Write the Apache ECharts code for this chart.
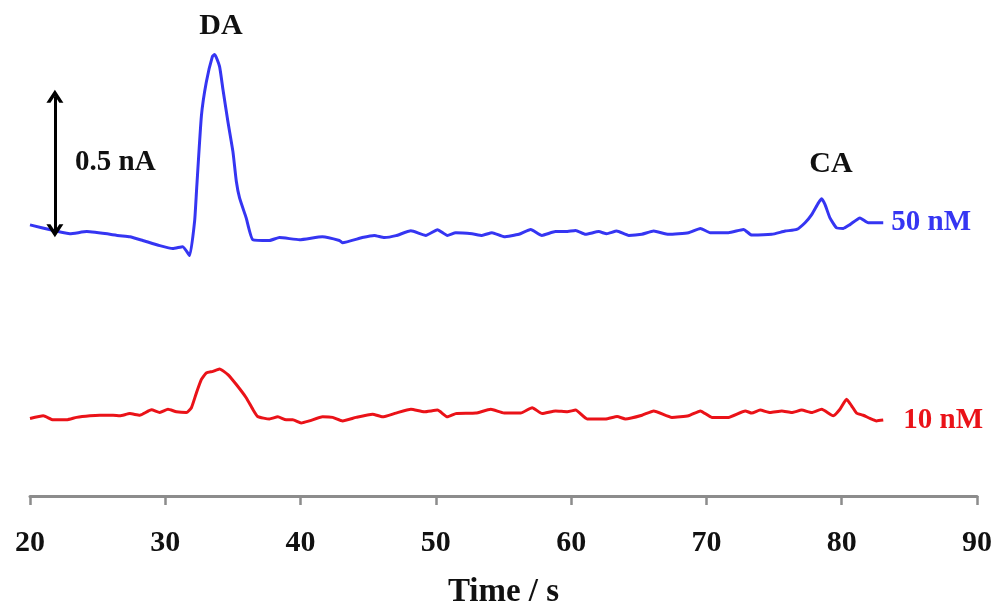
<!DOCTYPE html>
<html>
<head>
<meta charset="utf-8">
<script src="https://cdn.jsdelivr.net/npm/echarts@6/dist/echarts.min.js"></script>
<style>
html,body{margin:0;padding:0;background:#fff;}
#chart{width:995px;height:614px;}
</style>
</head>
<body>
<div id="chart"></div>
<script>
// Time (s) and current (nA, offset traces)
var time50 = [20.00,21.84,22.95,24.20,26.64,27.38,28.34,29.59,30.55,31.29,31.80,32.17,32.32,32.67,33.03,33.48,33.65,34.01,34.26,34.63,35.00,35.25,35.49,35.98,36.47,37.70,38.44,39.92,41.61,42.87,43.09,44.56,45.45,46.19,47.05,48.16,49.26,50.12,50.85,51.47,52.68,53.41,54.15,55.04,56.14,57.01,57.84,58.85,59.59,60.33,61.06,62.04,62.63,63.37,64.26,65.22,66.10,67.21,68.68,69.55,70.28,71.63,72.74,73.35,74.83,75.82,76.67,77.29,77.78,78.27,78.52,78.77,79.13,79.62,80.12,80.61,81.35,81.96,83.07];
var current50 = [1.007,0.985,0.974,0.982,0.967,0.963,0.949,0.930,0.919,0.926,0.893,1.022,1.143,1.412,1.537,1.632,1.640,1.596,1.511,1.390,1.279,1.169,1.107,1.033,0.952,0.949,0.960,0.952,0.963,0.949,0.941,0.960,0.968,0.960,0.967,0.985,0.968,0.989,0.968,0.978,0.974,0.968,0.978,0.963,0.972,0.990,0.968,0.982,0.982,0.986,0.972,0.982,0.974,0.984,0.968,0.972,0.984,0.972,0.978,0.994,0.978,0.978,0.990,0.969,0.972,0.984,0.990,1.015,1.045,1.088,1.104,1.082,1.033,0.996,0.994,1.008,1.033,1.015,1.015];

var time10 = [20.00,20.98,21.72,22.71,23.44,24.43,25.16,26.14,26.64,27.38,28.11,28.98,29.59,30.20,30.82,31.56,31.93,32.30,32.67,33.03,33.52,34.01,34.63,35.25,35.98,36.47,36.84,37.70,38.32,38.93,39.42,40.04,40.65,41.63,42.37,43.11,44.10,45.32,46.06,47.05,48.16,49.14,50.12,50.85,51.47,52.95,54.06,55.04,56.27,57.12,57.86,58.85,59.71,60.33,61.18,62.54,63.40,64.01,65.24,66.10,67.45,68.68,69.55,70.40,71.63,72.87,73.35,73.97,74.71,75.57,76.30,77.04,77.78,78.52,79.38,79.87,80.36,80.73,81.10,81.59,82.09,82.57,83.07];
var current10 = [0.288,0.298,0.283,0.283,0.292,0.298,0.300,0.300,0.298,0.306,0.300,0.320,0.310,0.322,0.313,0.310,0.328,0.383,0.433,0.457,0.463,0.472,0.451,0.414,0.365,0.322,0.295,0.286,0.294,0.283,0.283,0.271,0.279,0.294,0.292,0.279,0.292,0.304,0.294,0.308,0.322,0.313,0.319,0.294,0.306,0.308,0.322,0.308,0.308,0.328,0.306,0.316,0.313,0.319,0.286,0.286,0.295,0.286,0.300,0.316,0.292,0.298,0.316,0.292,0.292,0.316,0.308,0.319,0.310,0.316,0.310,0.319,0.310,0.322,0.298,0.322,0.359,0.335,0.308,0.300,0.288,0.279,0.282];

var seriesNames = ['50 nM', '10 nM'];
var peakLabels = ['DA', 'CA'];
var scaleBarTime = [21.84];
var scaleBarBase = [0.985];
var scaleBarSize = [0.5];
var scaleBarLabel = ['0.5 nA'];
var xTicks = [20, 30, 40, 50, 60, 70, 80, 90];

function zip(a, b) { return a.map(function (v, i) { return [v, b[i]]; }); }

var FONT = '"Liberation Serif", "Times New Roman", serif';
var BLUE = '#3535f2';
var RED = '#ea1218';
var chevron = 'path://M0,10 L5,0 L10,10 L7.6,10 L5,4.8 L2.4,10 Z';

var chart = echarts.init(document.getElementById('chart'), null, { renderer: 'canvas' });
chart.setOption({
  animation: false,
  backgroundColor: '#ffffff',
  grid: { left: 30, right: 16, top: 11.4, bottom: 113, containLabel: false },
  xAxis: {
    type: 'value',
    min: xTicks[0], max: xTicks[xTicks.length - 1], interval: 10,
    name: 'Time / s', nameLocation: 'middle', nameGap: 80,
    nameTextStyle: { fontFamily: FONT, fontWeight: 'bold', fontSize: 33, color: '#111' },
    axisLine: { show: true, onZero: false, lineStyle: { color: '#8c8c8c', width: 3 } },
    axisTick: { show: true, inside: false, length: 9, lineStyle: { color: '#8c8c8c', width: 2.5 } },
    axisLabel: { margin: 32, fontFamily: FONT, fontWeight: 'bold', fontSize: 30, color: '#111' },
    splitLine: { show: false }
  },
  yAxis: { type: 'value', min: 0, max: 1.8, show: false, splitLine: { show: false } },
  series: [
    {
      name: seriesNames[0], type: 'line', data: zip(time50, current50),
      showSymbol: false, smooth: 0.15, lineStyle: { color: BLUE, width: 3 }, itemStyle: { color: BLUE },
      endLabel: { show: true, formatter: seriesNames[0], distance: 8, color: BLUE, fontFamily: FONT, fontWeight: 'bold', fontSize: 29 },
      markLine: {
        silent: true, symbol: [chevron, chevron], symbolSize: [17, 13],
        label: { show: false },
        lineStyle: { color: '#000', width: 3, type: 'solid' },
        data: [[
          { coord: [scaleBarTime[0], scaleBarBase[0]] },
          { coord: [scaleBarTime[0], scaleBarBase[0] + scaleBarSize[0]] }
        ]]
      },
      z: 3
    },
    {
      name: seriesNames[1], type: 'line', data: zip(time10, current10),
      showSymbol: false, smooth: 0.15, lineStyle: { color: RED, width: 3 }, itemStyle: { color: RED },
      endLabel: { show: true, formatter: seriesNames[1], distance: 20, color: RED, fontFamily: FONT, fontWeight: 'bold', fontSize: 29 },
      z: 3
    }
  ],
  graphic: [
    { type: 'text', x: 221, y: 26, style: { text: peakLabels[0], font: 'bold 30px ' + FONT, fill: '#111', align: 'center', verticalAlign: 'middle' } },
    { type: 'text', x: 831, y: 164, style: { text: peakLabels[1], font: 'bold 30px ' + FONT, fill: '#111', align: 'center', verticalAlign: 'middle' } },
    { type: 'text', x: 75, y: 163, style: { text: scaleBarLabel[0], font: 'bold 29px ' + FONT, fill: '#111', align: 'left', verticalAlign: 'middle' } }
  ]
});
</script>
</body>
</html>
